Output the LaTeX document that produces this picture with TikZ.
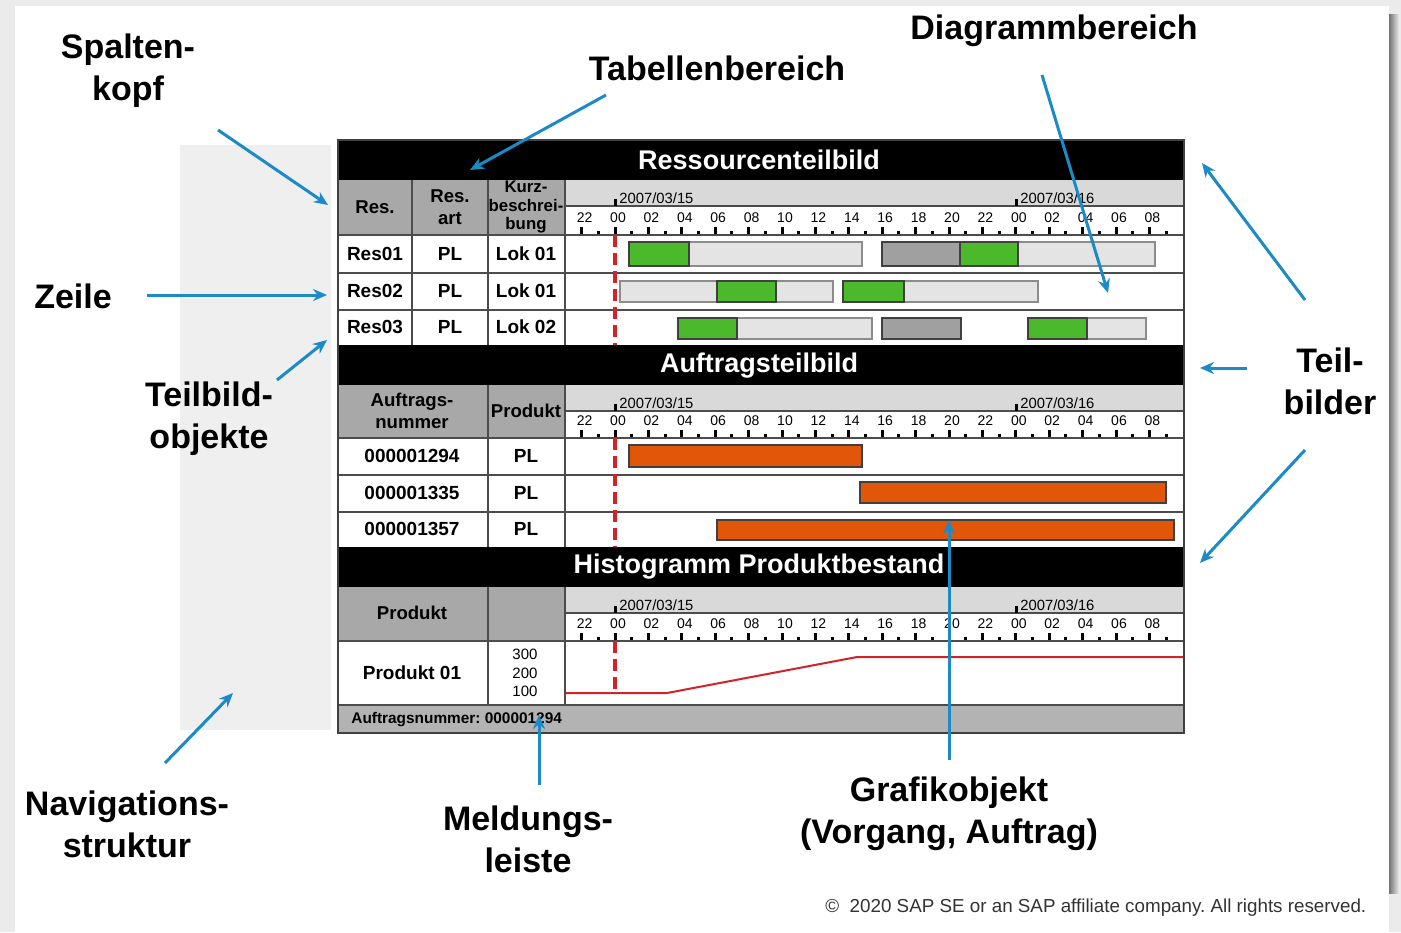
\documentclass[tikz,border=0pt]{standalone}
\usepackage{fontspec}
\setmainfont{Liberation Sans}
\usepackage{xcolor}
\usepackage{tikz}
\usetikzlibrary{arrows.meta, positioning}
\frenchspacing

\definecolor{pagegray}{HTML}{EBEBEB}
\definecolor{navgray}{HTML}{EFEFEF}
\definecolor{headgray}{HTML}{A8A8A8}
\definecolor{axisgray}{HTML}{D9D9D9}
\definecolor{msggray}{HTML}{B3B3B3}
\definecolor{barlight}{HTML}{E4E4E4}
\definecolor{bargreen}{HTML}{4CB82C}
\definecolor{bardark}{HTML}{A0A0A0}
\definecolor{barorange}{HTML}{E2560A}
\definecolor{linered}{HTML}{D2232A}
\definecolor{sapblue}{HTML}{1B8AC6}

\begin{document}
\begin{tikzpicture}[x=0.5pt, y=-0.5pt,
    callout/.style={font=\bfseries\fontsize{17}{21}\selectfont, align=center},
    pointer/.style={draw=sapblue, line width=1.5pt, -{Stealth[length=7pt, width=6pt]}},
    paneltitle/.style={text=white, font=\bfseries\fontsize{13.5}{16}\selectfont},
    cell/.style={font=\bfseries\fontsize{9.5}{11}\selectfont, align=center},
    headcell/.style={font=\bfseries\fontsize{9.3}{11}\selectfont, align=center},
    hourlabel/.style={font=\fontsize{7}{8}\selectfont, inner sep=0pt},
    datelabel/.style={font=\fontsize{7.4}{9}\selectfont, inner sep=0pt, anchor=west},
    gridline/.style={draw=black!70, line width=1pt},
    tick/.style={draw=black, line width=1.5pt},
    lightbar/.style={fill=barlight, draw=black!45, line width=0.9pt},
    greenbar/.style={fill=bargreen, draw=black!75, line width=0.9pt},
    darkbar/.style={fill=bardark, draw=black!75, line width=0.9pt},
    orangebar/.style={fill=barorange, draw=black!75, line width=0.9pt},
]
    \useasboundingbox (0,0) rectangle (1401,932);

    % Page and slide
    \fill[pagegray] (0,0) rectangle (1401,932);
    \shade[left color=black!55, right color=pagegray] (1389,14) rectangle (1399,893);
    \fill[white] (15,6) rectangle (1389,932);
    \fill[navgray] (180,145) rectangle (331,730);

    % Black panel headers
    \fill[black] (338,140) rectangle (1184,180);
    \fill[black] (338,345) rectangle (1184,385);
    \fill[black] (338,547) rectangle (1184,587);
    \node[paneltitle] (ressTitle) at (759,160) {Ressourcenteilbild};
    \node[paneltitle] (auftTitle) at (759,366) {Auftragsteilbild};
    \node[paneltitle] (histTitle) at (759,567) {Histogramm Produktbestand};

    % Column headers and message bar
    \fill[headgray] (338,180) rectangle (565,235);
    \fill[headgray] (338,385) rectangle (565,438);
    \fill[headgray] (338,587) rectangle (565,641);
    \fill[msggray] (338,705) rectangle (1184,733);

    % Time axes
    \foreach \ya/\yb in {180/235, 385/438, 587/641} {
        \fill[axisgray] (565,\ya) rectangle (1184,{\ya+26});
        \draw[gridline] (565,{\ya+26}) -- (1184,{\ya+26});
        \draw[tick] (615,{\ya+19}) -- (615,{\ya+26});
        \draw[tick] (1016,{\ya+19}) -- (1016,{\ya+26});
        \node[datelabel] (dayA-\ya) at (619,{\ya+18}) {2007/03/15};
        \node[datelabel] (dayB-\ya) at (1020,{\ya+18}) {2007/03/16};
        \foreach \t/\h in {-2/22,0/00,2/02,4/04,6/06,8/08,10/10,12/12,14/14,16/16,
                           18/18,20/20,22/22,24/00,26/02,28/04,30/06,32/08} {
            \draw[tick] ({615+16.7*\t},{\yb-8}) -- ({615+16.7*\t},{\yb-1});
            \draw[tick] ({615+16.7*(\t+1)},{\yb-4}) -- ({615+16.7*(\t+1)},{\yb-1});
            \node[hourlabel] (hr\t-\ya) at ({618+16.7*\t},{\yb-17}) {\h};
        }
    }

    % Resource bars
    \draw[lightbar] (629,242) rectangle (862,266);
    \draw[greenbar] (629,242) rectangle (689,266);
    \draw[lightbar] (882,242) rectangle (1155,266);
    \draw[darkbar] (882,242) rectangle (960,266);
    \draw[greenbar] (960,242) rectangle (1018,266);
    \draw[lightbar] (620,281) rectangle (833,302);
    \draw[greenbar] (717,281) rectangle (776,302);
    \draw[lightbar] (843,281) rectangle (1038,302);
    \draw[greenbar] (843,281) rectangle (904,302);
    \draw[lightbar] (678,318) rectangle (872,339);
    \draw[greenbar] (678,318) rectangle (737,339);
    \draw[darkbar] (882,318) rectangle (961,339);
    \draw[lightbar] (1028,318) rectangle (1146,339);
    \draw[greenbar] (1028,318) rectangle (1087,339);

    % Order bars
    \draw[orangebar] (629,445) rectangle (862,467);
    \draw[orangebar] (860,482) rectangle (1166,503);
    \draw[orangebar] (717,520) rectangle (1174,540);

    % Stock curve
    \draw[linered, line width=1pt] (565,693) -- (667,693) -- (857,657) -- (1184,657);

    % Table grid
    \foreach \yr in {235,273,310,438,475,512,641,705}
        \draw[gridline] (338,\yr) -- (1184,\yr);
    \draw[gridline] (412,180) -- (412,345);
    \draw[gridline] (488,180) -- (488,345);
    \draw[gridline] (565,180) -- (565,345);
    \draw[gridline] (488,385) -- (488,547);
    \draw[gridline] (565,385) -- (565,547);
    \draw[gridline] (488,587) -- (488,705);
    \draw[gridline] (565,587) -- (565,705);

    % Current time marker
    \foreach \ya/\yb in {235/345, 438/547, 641/693}
        \draw[linered, line width=1.6pt, dash pattern=on 6pt off 3pt] (615,\ya) -- (615,\yb);

    % Table texts
    \node[headcell] (hRes) at (375,207) {Res.};
    \node[headcell] (hArt) at (450,207) {Res.\\art};
    \node[headcell, font=\bfseries\fontsize{8.4}{9.2}\selectfont] (hKurz) at (526,207) {Kurz-\\beschrei-\\bung};
    \foreach \yr/\r/\l in {254/01/01, 291/02/01, 327/03/02} {
        \node[cell] (res\r) at (375,\yr) {Res\r};
        \node[cell] (art\r) at (450,\yr) {PL};
        \node[cell] (lok\r) at (526,\yr) {Lok \l};
    }
    \node[headcell] (hAuft) at (412,411) {Auftrags-\\nummer};
    \node[headcell] (hProd) at (526,411) {Produkt};
    \foreach \yr/\n in {456/1294, 493/1335, 529/1357} {
        \node[cell] (auft\n) at (412,\yr) {00000\n};
        \node[cell] (prod\n) at (526,\yr) {PL};
    }
    \node[headcell] (hProdukt) at (412,613) {Produkt};
    \node[cell] (produkt01) at (412,673) {Produkt 01};
    \node[font=\fontsize{7.5}{9.25}\selectfont, align=center] (scale) at (525,673) {300\\200\\100};
    \node[font=\bfseries\fontsize{7.7}{9}\selectfont, anchor=west, inner sep=0pt] (msgText) at (351,720) {Auftragsnummer: 000001294};

    % Outer frame
    \draw[black!75, line width=1.3pt] (338,140) rectangle (1184,733);

    % Callouts
    \node[callout] (spaltenkopf) at (128,71) {Spalten-\\kopf};
    \node[callout] (tabelle) at (717,68) {Tabellenbereich};
    \node[callout] (diagramm) at (1054,31) {Diagrammbereich};
    \node[callout] (zeile) at (73,296) {Zeile};
    \node[callout] (objekte) at (209,419) {Teilbild-\\objekte};
    \node[callout] (teilbilder) at (1330,381) {Teil-\\bilder};
    \node[callout] (navigation) at (127,824) {Navigations-\\struktur};
    \node[callout] (meldung) at (528,839) {Meldungs-\\leiste};
    \node[callout] (grafik) at (949,814) {Grafikobjekt\\(Vorgang, Auftrag)};

    % Pointer ends
    \coordinate (spkFrom) at (218,130);   \coordinate (spkTo) at (328,205);
    \coordinate (tabFrom) at (606,95);    \coordinate (tabTo) at (470,170);
    \coordinate (diaFrom) at (1042,75);   \coordinate (diaTo) at (1108,293);
    \coordinate (zeiFrom) at (147,295);   \coordinate (zeiTo) at (327,295);
    \coordinate (objFrom) at (277,380);   \coordinate (objTo) at (327,340);
    \coordinate (tbaFrom) at (1305,300);  \coordinate (tbaTo) at (1202,163);
    \coordinate (tbbFrom) at (1247,368);  \coordinate (tbbTo) at (1200,368);
    \coordinate (tbcFrom) at (1305,450);  \coordinate (tbcTo) at (1200,563);
    \coordinate (navFrom) at (165,763);   \coordinate (navTo) at (233,693);
    \coordinate (melFrom) at (539,785);   \coordinate (melTo) at (539,715);
    \coordinate (grfFrom) at (949,760);   \coordinate (grfTo) at (949,520);

    % Pointers
    \foreach \p in {spk,tab,dia,zei,obj,tba,tbb,tbc,nav,mel,grf}
        \draw[pointer] (\p From) -- (\p To);

    % Footer
    \node[font=\fontsize{9.4}{11}\selectfont, text=black!80, anchor=west, inner sep=0pt] (copyright) at (825,908)
        {\textcopyright\ \ 2020 SAP SE or an SAP affiliate company. All rights reserved.};
\end{tikzpicture}
\end{document}
